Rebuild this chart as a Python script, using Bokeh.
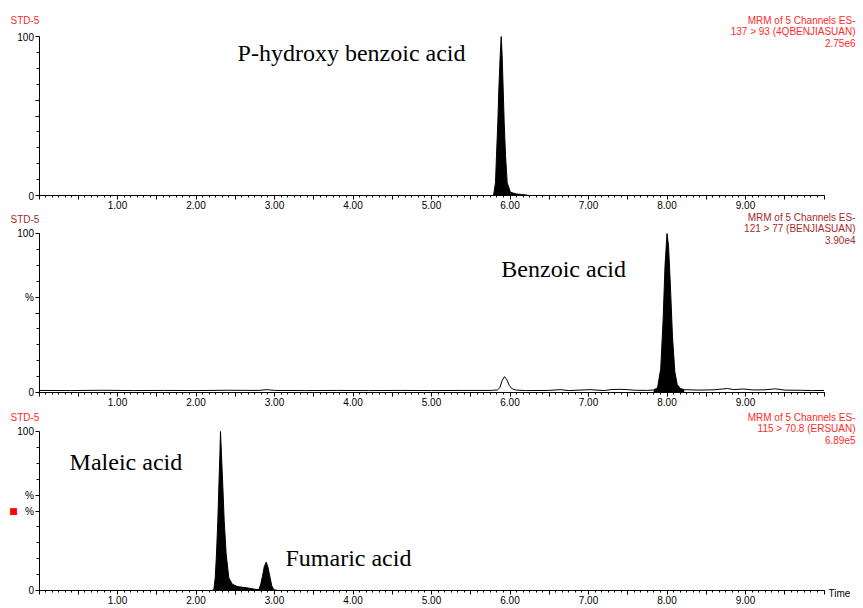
from bokeh.plotting import figure
from bokeh.layouts import column
from bokeh.models import Range1d, FixedTicker, Label, CustomJSTickFormatter
from bokeh.embed import file_html
from bokeh.resources import INLINE

# ---------------- data ----------------
p1_time = [0.00, 5.79, 5.815, 5.828, 5.845, 5.858, 5.875, 5.888, 5.900, 5.913, 5.926,
           5.943, 5.964, 6.006, 6.08, 6.176, 6.25, 10.00]
p1_int = [0, 0, 8, 25, 46, 67, 88, 100, 88, 67, 46, 25, 8, 2, 1, 0.5, 0, 0]

p2_time = [0.00, 0.40, 0.80, 1.20, 1.60, 2.00, 2.40, 2.80, 2.90, 3.00,
           3.40, 3.80, 4.20, 4.60, 5.00, 5.40, 5.75, 5.84, 5.87, 5.90,
           5.93, 5.96, 5.99, 6.03, 6.08, 6.20, 6.50, 6.64, 6.75, 7.02,
           7.20, 7.30, 7.40, 7.50, 7.60, 7.75, 7.83, 7.88, 7.92, 7.95,
           7.975, 8.00, 8.02, 8.045, 8.07, 8.10, 8.13, 8.17, 8.22, 8.40,
           8.60, 8.77, 8.85, 8.97, 9.10, 9.25, 9.38, 9.50, 9.70, 9.85, 10.00]
p2_int = [1.3, 1.2, 1.4, 1.2, 1.3, 1.2, 1.4, 1.3, 1.8, 1.3,
          1.2, 1.3, 1.2, 1.3, 1.2, 1.3, 1.3, 1.6, 3.0, 7.5,
          10.0, 8.0, 4.5, 2.2, 1.5, 1.2, 1.3, 1.8, 1.2, 1.8,
          1.2, 1.9, 2.0, 1.8, 1.4, 1.3, 1.6, 3.0, 15.0, 45.0,
          80.0, 100.0, 92.0, 65.0, 35.0, 13.0, 5.0, 2.5, 1.8, 1.5,
          1.7, 2.5, 1.8, 2.2, 1.6, 1.7, 2.3, 1.5, 1.4, 1.2, 1.3]
p2_fill_window = [7.83, 8.22]

p3_time = [0.00, 2.20, 2.227, 2.245, 2.261, 2.278, 2.291, 2.304, 2.312, 2.325,
           2.342, 2.359, 2.384, 2.418, 2.461, 2.524, 2.600, 2.673, 2.750, 2.800,
           2.825, 2.847, 2.870, 2.894, 2.915, 2.940, 2.965, 2.990, 3.050, 10.00]
p3_int = [0, 0, 0.5, 8, 23, 44, 65, 85, 100, 85,
          65, 44, 23, 8, 4, 2.5, 2, 1.5, 0.8, 0.5,
          4, 9, 15, 17.8, 15, 9, 3, 0.5, 0, 0]

sample_name = "STD-5"
header_line1 = "MRM of 5 Channels ES-"
channels = ["137 > 93 (4QBENJIASUAN)", "121 > 77 (BENJIASUAN)", "115 > 70.8 (ERSUAN)"]
scales = ["2.75e6", "3.90e4", "6.89e5"]
header_colors = ["#ff2a2a", "#a52a2a", "#ff2a2a"]
y_tick_labels = [{0: "0", 50: "", 60: "", 100: "100"},
                 {0: "0", 50: "", 60: "%", 100: "100"},
                 {0: "0", 50: "%", 60: "%", 100: "100"}]

compound_names = [["P-hydroxy benzoic acid"], ["Benzoic acid"], ["Maleic acid", "Fumaric acid"]]
compound_pos = [[(2.53, 89.6)], [(5.89, 77.6)], [(0.39, 80.8), (3.14, 20.4)]]

time_start, time_end = 0.0, 10.0

# ---------------- layout (pixels) ----------------
W = 863              # canvas width
X0_PX = 38.5         # canvas x of time 0
PX_PER_MIN = 78.5
FH = 159             # pixels between 0 % and 100 %
TOP_PAD = [36, 21, 22]   # pixels above the 100 % line
BOT_PAD = [17, 17, 18]   # pixels below the 0 % line
TOTAL_H = sum(TOP_PAD) + sum(BOT_PAD) + 3 * FH
STD_OFFSET = [16, 14, 14.5]      # header offsets above the 100 % line
MRM_OFFSET = [16, 16, 14]

SMALL = "10px"
SANS = "Liberation Sans"
SERIF = "Liberation Serif"

major_x = [k * 0.5 for k in range(21)]
minor_x = [k / 12 for k in range(121)]

xfmt = CustomJSTickFormatter(code="""
const r = Math.round(tick);
return (Math.abs(tick - r) < 1e-6 && r >= 1 && r <= 9) ? tick.toFixed(2) : "";
""")


def px_to_min(px):
    return (px - X0_PX) / PX_PER_MIN


def px_to_pct(px_above_zero):
    return px_above_zero / FH * 100


def text_label(p, x, y, text, color, align, size=SMALL, font=SANS, baseline="middle"):
    p.add_layout(Label(x=x, y=y, text=text, text_color=color, text_font=font,
                       text_font_size=size, text_align=align, text_baseline=baseline))


def make_panel(idx, times, ints, fill_window=None):
    x_lo = px_to_min(0)
    x_hi = px_to_min(W)
    y_lo = -px_to_pct(BOT_PAD[idx])
    y_hi = 100 + px_to_pct(TOP_PAD[idx])
    p = figure(width=W, height=TOP_PAD[idx] + FH + BOT_PAD[idx],
               x_range=Range1d(x_lo, x_hi), y_range=Range1d(y_lo, y_hi),
               output_backend="svg", toolbar_location=None, title=None,
               min_border_left=0, min_border_right=0,
               min_border_top=0, min_border_bottom=0,
               styles={"overflow": "hidden"})
    p.outline_line_color = None
    p.xgrid.visible = False
    p.ygrid.visible = False
    p.background_fill_color = "white"
    p.border_fill_color = "white"

    if fill_window is None:
        fx, fy = times, ints
    else:
        fx = [t for t in times if fill_window[0] <= t <= fill_window[1]]
        fy = [v for t, v in zip(times, ints) if fill_window[0] <= t <= fill_window[1]]
    p.varea(x=fx, y1=[0] * len(fx), y2=fy, fill_color="black")
    p.line(times, ints, line_color="black", line_width=1)

    xa = p.xaxis[0]
    xa.fixed_location = 0
    xa.bounds = (time_start, time_end)
    xa.ticker = FixedTicker(ticks=major_x, minor_ticks=minor_x)
    xa.formatter = xfmt
    xa.major_tick_out = 4
    xa.major_tick_in = 0
    xa.minor_tick_out = 2
    xa.minor_tick_in = 0
    xa.major_label_standoff = 1
    xa.major_label_text_font = SANS
    xa.major_label_text_font_size = SMALL
    xa.major_label_text_color = "black"
    xa.axis_line_color = "black"
    xa.major_tick_line_color = "black"
    xa.minor_tick_line_color = "black"

    ya = p.yaxis[0]
    ya.fixed_location = time_start
    ya.bounds = (0, 100)
    ya.ticker = FixedTicker(ticks=[0, 50, 60, 100], minor_ticks=[10, 20, 30, 40, 70, 80, 90])
    ya.major_label_overrides = y_tick_labels[idx]
    ya.major_tick_out = 4
    ya.major_tick_in = 0
    ya.minor_tick_out = 3
    ya.minor_tick_in = 0
    ya.major_label_standoff = 1
    ya.major_label_text_font = SANS
    ya.major_label_text_font_size = SMALL
    ya.major_label_text_color = "black"
    ya.axis_line_color = "black"
    ya.major_tick_line_color = "black"
    ya.minor_tick_line_color = "black"

    col = header_colors[idx]
    text_label(p, px_to_min(10), 100 + px_to_pct(STD_OFFSET[idx]), sample_name, col, "left")
    right_x = px_to_min(855)
    for k, txt in enumerate([header_line1, channels[idx], scales[idx]]):
        text_label(p, right_x, 100 + px_to_pct(MRM_OFFSET[idx] - 11 * k), txt, col, "right")

    for name, (tx, ty) in zip(compound_names[idx], compound_pos[idx]):
        text_label(p, tx, ty, name, "black", "left", size="24px", font=SERIF,
                   baseline="alphabetic")
    return p


p1 = make_panel(0, p1_time, p1_int)
p2 = make_panel(1, p2_time, p2_int, fill_window=p2_fill_window)
p3 = make_panel(2, p3_time, p3_int)

# red marker and axis title of the lower panel
text_label(p3, px_to_min(13), 49.7, "\u25a0", "#ff0000", "center", size="9px", font="DejaVu Sans")
text_label(p3, px_to_min(828), -px_to_pct(2.5), "Time", "black", "left")

layout = column(p1, p2, p3, spacing=0, width=W, height=TOTAL_H,
                styles={"overflow": "hidden"})

open("out.html", "w").write(file_html(layout, INLINE))
